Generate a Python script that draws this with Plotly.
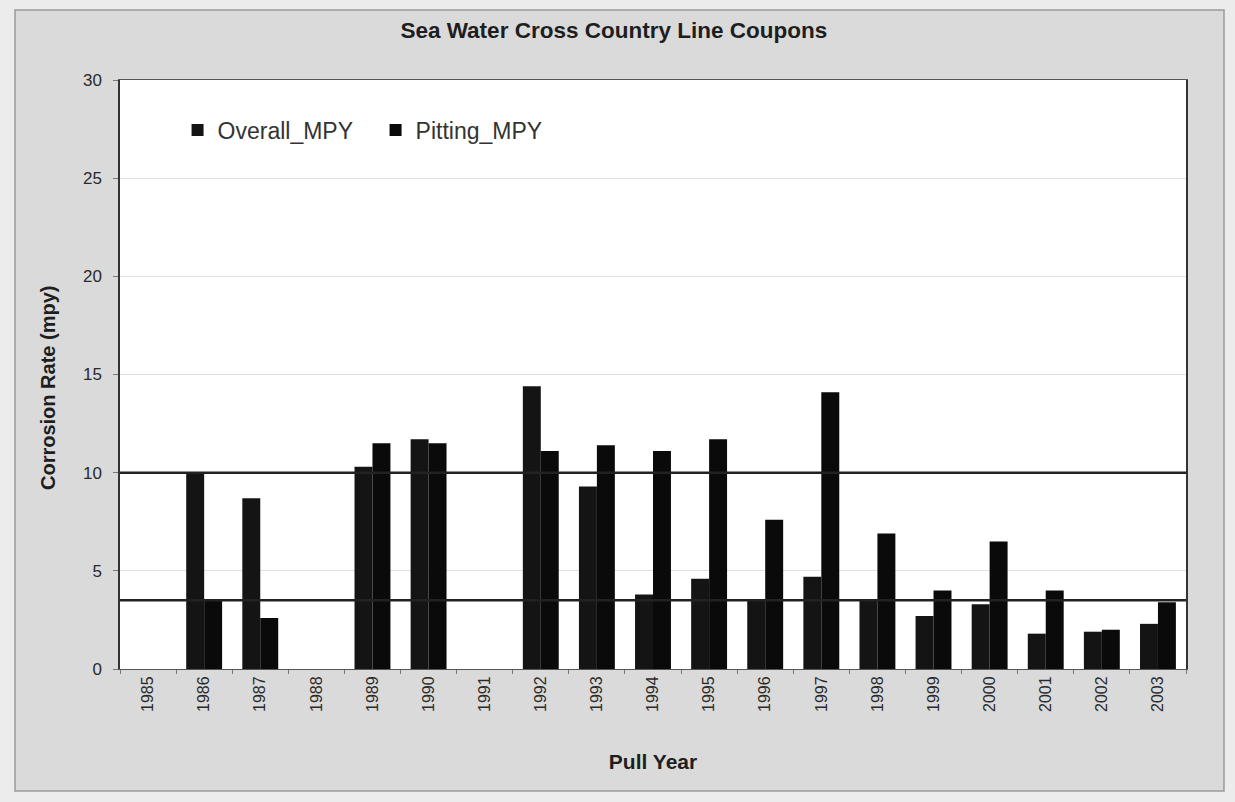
import plotly.graph_objects as go

# Pull years and measured corrosion rates (mpy)
years = [str(y) for y in range(1985, 2004)]
overall_mpy = [0, 10.0, 8.7, 0, 10.3, 11.7, 0, 14.4, 9.3, 3.8, 4.6, 3.5, 4.7, 3.5, 2.7, 3.3, 1.8, 1.9, 2.3]
pitting_mpy = [0, 3.5, 2.6, 0, 11.5, 11.5, 0, 11.1, 11.4, 11.1, 11.7, 7.6, 14.1, 6.9, 4.0, 6.5, 4.0, 2.0, 3.4]

# Reference limits drawn across the plot
limit_lines = [10, 3.5]

y_ticks = [0, 5, 10, 15, 20, 25, 30]

PW, PH = 1066, 589  # plot area size in pixels

fig = go.Figure()
fig.add_trace(go.Bar(x=years, y=overall_mpy, name="Overall_MPY",
                     marker=dict(color="#141414", line=dict(width=0))))
fig.add_trace(go.Bar(x=years, y=pitting_mpy, name="Pitting_MPY",
                     marker=dict(color="#0a0a0a", line=dict(width=0))))

for v in limit_lines:
    fig.add_shape(type="line", xref="paper", x0=0, x1=1, yref="y", y0=v, y1=v,
                  line=dict(color="#222222", width=2.5), layer="above")

# Chart frame: gray panel with a thin border, white plotting area on top of it
fig.add_shape(type="rect", xref="paper", yref="paper",
              x0=-105 / PW, x1=1 + 38 / PW, y0=-122 / PH, y1=1 + 70 / PH,
              fillcolor="#dadada", line=dict(color="#9a9a9a", width=1.5), layer="below")
fig.add_shape(type="rect", xref="paper", yref="paper", x0=0, x1=1, y0=0, y1=1,
              fillcolor="#ffffff", line=dict(width=0), layer="below")

# Vertical axis title
fig.add_annotation(text="<b>Corrosion Rate (mpy)</b>", textangle=-90,
                   xref="paper", yref="paper", x=(48 - 120) / PW, y=(669 - 388) / PH,
                   xanchor="center", yanchor="middle", showarrow=False,
                   font=dict(size=20, color="#1e1e1e"))

fig.update_layout(
    width=1235, height=802,
    margin=dict(l=120, r=49, t=80, b=133),
    paper_bgcolor="#ececec",
    plot_bgcolor="rgba(0,0,0,0)",
    barmode="group",
    bargap=0.36,
    bargroupgap=0,
    font=dict(family="Liberation Sans, Arial, sans-serif", color="#2a2a2a"),
    title=dict(text="<b>Sea Water Cross Country Line Coupons</b>",
               x=0.497, xanchor="center", y=0.962, yanchor="middle",
               font=dict(size=22.5, color="#1e1e1e")),
    legend=dict(orientation="h", x=0.054, y=0.915, xanchor="left", yanchor="middle",
                bgcolor="rgba(0,0,0,0)", font=dict(size=23, color="#333333"),
                itemwidth=30, entrywidth=153, entrywidthmode="pixels",
                traceorder="normal"),
    xaxis=dict(
        type="category", tickangle=-90, tickfont=dict(size=16, color="#2a2a2a"),
        showline=True, linecolor="#555555", linewidth=1, mirror=True,
        ticks="outside", ticklen=4, tickcolor="#777777", tickson="boundaries",
        title=dict(text="<b>Pull Year</b>", standoff=43,
                   font=dict(size=21, color="#1e1e1e")),
    ),
    yaxis=dict(
        range=[0, 30], tickvals=y_ticks, tickfont=dict(size=17, color="#2a2a2a"),
        showgrid=True, gridcolor="#e0e0e0", gridwidth=1,
        showline=True, linecolor="#333333", linewidth=1.5, mirror=True,
        ticks="outside", ticklen=5, tickcolor="#777777", ticklabelstandoff=8,
        zeroline=False,
    ),
)

fig.write_html("out.html")
